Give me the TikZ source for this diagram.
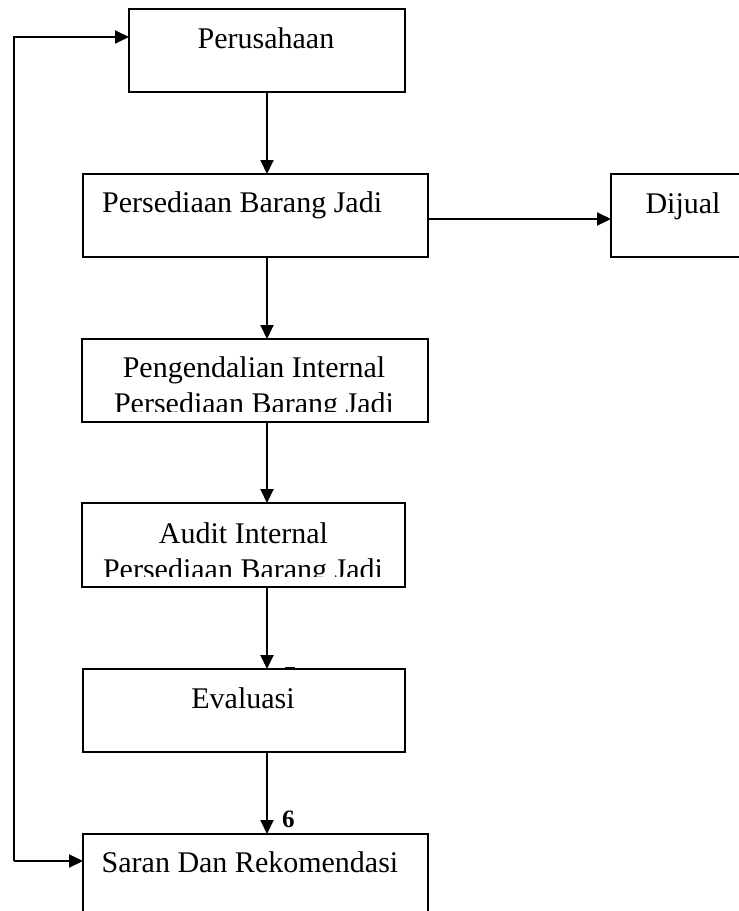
\documentclass[tikz,border=0pt]{standalone}
\usepackage{fontspec}
\setmainfont{Liberation Serif}
\usetikzlibrary{arrows.meta}
\begin{document}
\begin{tikzpicture}[x=1pt,y=-1pt,
  box/.style={draw, line width=2pt, rectangle, inner sep=0pt, outer sep=0pt},
  lbl/.style={font=\fontsize{30}{35}\selectfont, inner sep=0pt, anchor=base},
  arr/.style={line width=2pt, -{Triangle[length=14pt,width=13pt]}}]
\clip (0,0) rectangle (739,911);
\fill[white] (0,0) rectangle (739,911);
% boxes
\node[box, minimum width=276pt, minimum height=83pt] (p) at (267,50.5) {};
\node[box, minimum width=345pt, minimum height=83pt] (b2) at (255.5,215.5) {};
\node[box, minimum width=149pt, minimum height=83pt] (d) at (685.5,215.5) {};
\node[box, minimum width=346pt, minimum height=83pt] (b3) at (255,380.5) {};
\node[box, minimum width=323pt, minimum height=84pt] (b4) at (243.5,545) {};
\node[box, minimum width=322pt, minimum height=83pt] (b5) at (244,710.5) {};
\node[box, minimum width=345pt, minimum height=83pt] (b6) at (255.5,875.5) {};
% small mark on the top edge of Evaluasi
\coordinate (m1) at (285,668.5);
\coordinate (m2) at (295,668.5);
\draw[line width=3pt] (m1) -- (m2);
% texts
\node[lbl] (tp) at (266,48) {Perusahaan};
\node[lbl, anchor=base west] (t2) at (102,212) {Persediaan Barang Jadi};
\node[lbl] (td) at (683,213) {Dijual};
\node[lbl] (t3a) at (254,377) {Pengendalian Internal};
\begin{scope}
  \clip (82,380) rectangle (428,411);
  \node[lbl] (t3b) at (254,413) {Persediaan Barang Jadi};
\end{scope}
\node[lbl] (t4a) at (243.5,543) {Audit Internal};
\begin{scope}
  \clip (82,545) rectangle (405,576);
  \node[lbl] (t4b) at (243,579) {Persediaan Barang Jadi};
\end{scope}
\node[lbl] (t5) at (243,708) {Evaluasi};
\node[lbl] (t6) at (250,872) {Saran Dan Rekomendasi};
\node[inner sep=0pt, anchor=base west, font=\bfseries\fontsize{25}{30}\selectfont] (six) at (282,827) {6};
% connectors
\coordinate (col) at (267,0);
\coordinate (yr) at (0,219);
\coordinate (lt) at (14,37);
\coordinate (lb) at (14,861);
\draw[arr] (p.south -| col) -- (b2.north -| col);
\draw[arr] (b2.south -| col) -- (b3.north -| col);
\draw[arr] (b3.south -| col) -- (b4.north -| col);
\draw[arr] (b4.south -| col) -- (b5.north -| col);
\draw[arr] (b5.south -| col) -- (b6.north -| col);
\draw[arr] (b2.east |- yr) -- (d.west |- yr);
\draw[arr] (lb) -- (lt) -- (lt -| p.west);
\draw[arr] (lb) -- (lb -| b6.west);
\end{tikzpicture}
\end{document}
